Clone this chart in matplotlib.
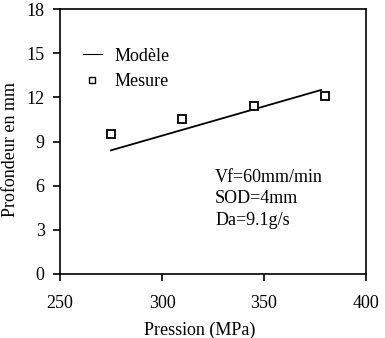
import matplotlib.pyplot as plt
from matplotlib.lines import Line2D

plt.rcParams['font.family'] = ['Liberation Serif', 'DejaVu Serif']

pression_mesure = [275, 310, 345, 380]
profondeur_mesure = [9.5, 10.5, 11.4, 12.1]
pression_modele = [275, 378]
profondeur_modele = [8.4, 12.5]

fig = plt.figure(figsize=(3.85, 3.38), dpi=100)
ax = fig.add_axes([60 / 385, 1 - 274 / 338, 306 / 385, 265 / 338])

ax.plot(pression_modele, profondeur_modele, color='black', linewidth=1.3)
ax.plot(pression_mesure, profondeur_mesure, linestyle='none', marker='s', markersize=6,
        markerfacecolor='white', markeredgecolor='black', markeredgewidth=1.3)

ax.set_xlim(250, 400)
ax.set_ylim(0, 18)
ax.set_xticks([250, 300, 350, 400])
ax.set_yticks([0, 3, 6, 9, 12, 15, 18])
ax.tick_params(direction='out', length=5, width=1.2, labelsize=13, pad=6)
ax.tick_params(axis='x', pad=10)
for s in ax.spines.values():
    s.set_linewidth(1.2)

ax.set_xlabel('Pression (MPa)', fontsize=13)
ax.xaxis.set_label_coords(0.457, -0.18)
ax.set_ylabel('Profondeur en mm', fontsize=13)
ax.yaxis.set_label_coords(-0.133, 0.47)

handles = [Line2D([], [], color='black', linewidth=0.8),
           Line2D([], [], linestyle='none', marker='s', markersize=5,
                  markerfacecolor='white', markeredgecolor='black', markeredgewidth=1.0)]
ax.legend(handles, ['Modèle', 'Mesure'], loc='upper left', bbox_to_anchor=(0.075, 0.854),
          frameon=False, fontsize=13, handlelength=1.05, handletextpad=0.7,
          labelspacing=0.48, borderpad=0, borderaxespad=0)

ax.text(0.507, 0.395, 'Vf=60mm/min\nSOD=4mm\nDa=9.1g/s', transform=ax.transAxes,
        fontsize=13, va='top', ha='left', linespacing=1.32)

fig.savefig('out.png', dpi=100)
